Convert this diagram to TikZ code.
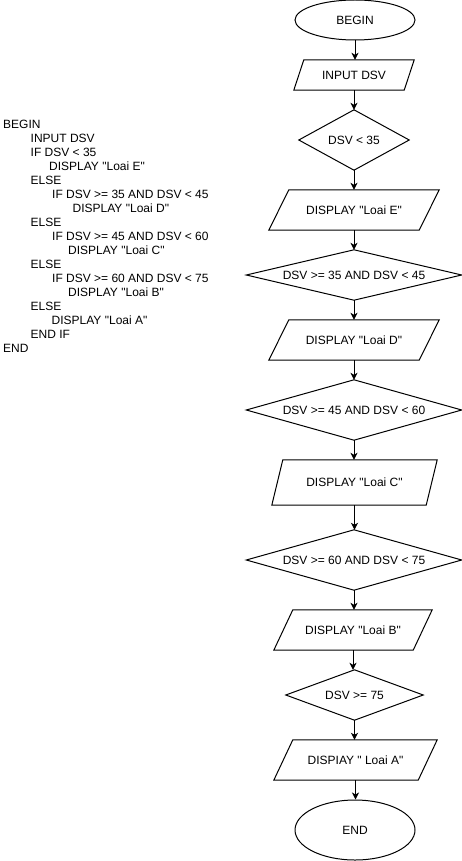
\documentclass[tikz,border=0pt]{standalone}
\usepackage{fontspec}
\setmainfont{Liberation Sans}[Ligatures=TeXOff]
\usetikzlibrary{shapes.geometric,arrows.meta}
\begin{document}
\begin{tikzpicture}[x=1pt,y=-1pt,
  every node/.style={font=\fontsize{12}{14}\selectfont, inner sep=0pt},
  box/.style={rectangle, minimum width=#1},
  term/.style={ellipse, draw, line width=1pt},
  outline/.style={draw, line width=1pt, line join=miter},
  arr/.style={line width=1pt, -{Stealth[length=7pt,width=7pt,inset=2pt]}},
  code/.style={anchor=base west}]
\useasboundingbox (0,0) rectangle (462,861);
\fill[white] (0,0) rectangle (462,861);

% pseudo code
\foreach \n/\x/\t [count=\i from 0] in {
  c1/3/BEGIN, c2/30.5/INPUT DSV, c3/30.5/IF DSV < 35, c4/49/DISPLAY "Loai E",
  c5/30.5/ELSE, c6/52/IF DSV >= 35 AND DSV < 45, c7/72.5/DISPLAY "Loai D",
  c8/30.5/ELSE, c9/52/IF DSV >= 45 AND DSV < 60, c10/68/DISPLAY "Loai C",
  c11/30.5/ELSE, c12/52/IF DSV >= 60 AND DSV < 75, c13/68/DISPLAY "Loai B",
  c14/30.5/ELSE, c15/51.5/DISPLAY "Loai A", c16/30.5/END IF, c17/3/END}
  \node[code] (\n) at (\x, 128.3+14*\i) {\t};

% flowchart nodes
\node[term, minimum width=120, minimum height=40] (begin) at (355,20) {BEGIN};
\node[box=120, minimum height=30] (in) at (354,75) {INPUT DSV};
\node[box=110, minimum height=60] (d1) at (354,140) {DSV < 35};
\node[box=170, minimum height=40] (pe) at (354,210) {DISPLAY "Loai E"};
\node[box=215, minimum height=50] (d2) at (354,275) {DSV >= 35 AND DSV < 45};
\node[box=170, minimum height=40] (pd) at (354,340) {DISPLAY "Loai D"};
\node[box=215, minimum height=60] (d3) at (354,410) {DSV >= 45 AND DSV < 60};
\node[box=165, minimum height=45] (pc) at (354.5,482.5) {DISPLAY "Loai C"};
\node[box=215, minimum height=60] (d4) at (354,560) {DSV >= 60 AND DSV < 75};
\node[box=158, minimum height=40] (pb) at (353,630) {DISPLAY "Loai B"};
\node[box=137, minimum height=50] (d5) at (354.5,695) {DSV >= 75};
\node[box=163, minimum height=40] (pa) at (355.5,760) {DISPIAY " Loai A"};
\node[term, minimum width=120, minimum height=60] (end) at (355,830) {END};

% parallelogram outlines
\foreach \p/\s in {in/10, pe/20, pd/20, pc/11, pb/19, pa/19}
  \draw[outline] (\p.south west) -- ([xshift=\s pt]\p.north west) -- (\p.north east)
     -- ([xshift=-\s pt]\p.south east) -- cycle;
% diamond outlines
\foreach \d in {d1,d2,d3,d4,d5}
  \draw[outline] (\d.north) -- (\d.east) -- (\d.south) -- (\d.west) -- cycle;

% connectors
\foreach \a/\b in {begin/in, in/d1, d1/pe, pe/d2, d2/pd, pd/d3, d3/pc, pc/d4, d4/pb, pb/d5, d5/pa, pa/end}
  \draw[arr] (\a.south) -- (\a.south |- \b.north);
\end{tikzpicture}
\end{document}
